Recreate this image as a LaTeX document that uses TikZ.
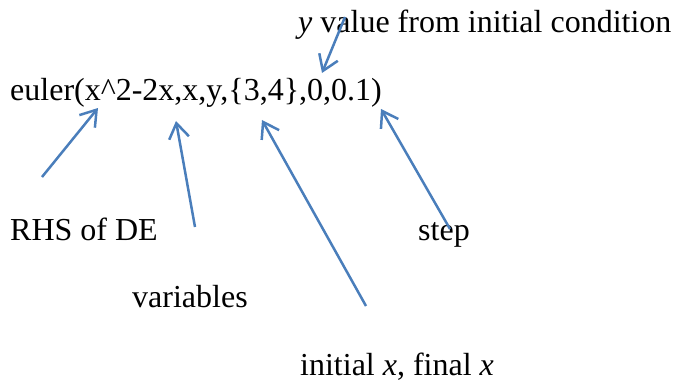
\documentclass[tikz,border=0pt]{standalone}
\usepackage{fontspec}
\setmainfont{Liberation Serif}
\usetikzlibrary{arrows.meta}
\definecolor{arrowblue}{HTML}{4A7EBB}
\begin{document}
\begin{tikzpicture}[x=1pt,y=-1pt,
  lbl/.style={anchor=base west,inner sep=0pt,font=\fontsize{32}{38}\selectfont},
  pointer/.style={draw=arrowblue,line width=2.5pt,-{Straight Barb[length=15pt,width=20pt,line width=2.5pt]}}]
\useasboundingbox (0,0) rectangle (674,385);
\node[lbl] (main) at (10,101) {euler(x\textasciicircum 2-2x,x,y,\{3,4\},0,0.1)};
\node[lbl] (yval) at (298,33) {\textit{y} value from initial condition};
\node[lbl] (rhs) at (10,240) {RHS of DE};
\node[lbl] (step) at (418,240) {step};
\node[lbl] (vars) at (132,307) {variables};
\node[lbl] (range) at (300,375) {initial \textit{x}, final \textit{x}};
% arrow ends
\coordinate (rhsT) at (42,177);   \coordinate (rhsH) at (98,108);
\coordinate (varT) at (195,227);  \coordinate (varH) at (176,121);
\coordinate (rngT) at (366,306);  \coordinate (rngH) at (262,120);
\coordinate (stpT) at (450,229);  \coordinate (stpH) at (381,109);
\coordinate (yT) at (345,17);     \coordinate (yH) at (322,73);
\draw[pointer] (rhsT) -- (rhsH);
\draw[pointer] (varT) -- (varH);
\draw[pointer] (rngT) -- (rngH);
\draw[pointer] (stpT) -- (stpH);
\draw[pointer] (yT) -- (yH);
\end{tikzpicture}
\end{document}
